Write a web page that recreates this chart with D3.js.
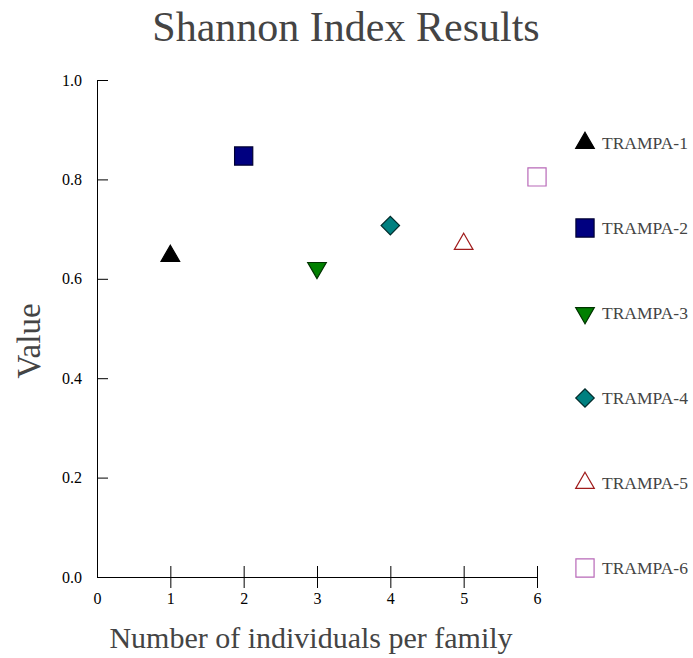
<!DOCTYPE html>
<html>
<head>
<meta charset="utf-8">
<script src="https://cdn.jsdelivr.net/npm/d3@7"></script>
<style>
  body { margin: 0; background: #fff; }
  text { font-family: "Liberation Serif", "DejaVu Serif", serif; }
</style>
</head>
<body>
<div id="chart"></div>
<script>
// data
var series = ["TRAMPA-1", "TRAMPA-2", "TRAMPA-3", "TRAMPA-4", "TRAMPA-5", "TRAMPA-6"]
var xValues = [1, 2, 3, 4, 5, 6]
var yValues = [0.646, 0.847, 0.622, 0.707, 0.670, 0.805]
var xTicks = [0, 1, 2, 3, 4, 5, 6]
var yTicks = [0.0, 0.2, 0.4, 0.6, 0.8, 1.0]

var width = 693,
    height = 658

var fills = ["#000000", "#000080", "#008000", "#008080", "none", "none"]
var strokes = ["#000000", "#000033", "#003300", "#002b2b", "#a01c1c", "#b868b8"]

var svg = d3.select("#chart")
  .append("svg")
    .attr("width", width)
    .attr("height", height)

var x = d3.scaleLinear().domain([0, 6]).range([97, 537])
var y = d3.scaleLinear().domain([0, 1]).range([577, 80])

// shape for each series
function shape(i) {
  if (i == 0 || i == 4) return {type: d3.symbolTriangle, rot: 0, size: 150}
  if (i == 2) return {type: d3.symbolTriangle, rot: 180, size: 150}
  if (i == 3) return {type: d3.symbolSquare, rot: 45, size: 170}
  return {type: d3.symbolSquare, rot: 0, size: 330}
}

// title
svg.append("text")
  .attr("x", 346).attr("y", 41)
  .attr("text-anchor", "middle")
  .style("font-size", "42px")
  .style("fill", "#444")
  .text("Shannon Index Results")

// axes
var yAxis = svg.append("g")
  .attr("transform", "translate(" + x(0) + ",0)")
  .call(d3.axisLeft(y).tickValues(yTicks).tickFormat(d3.format(".1f")).tickSizeInner(11).tickSizeOuter(0).tickPadding(4))
yAxis.selectAll(".tick line").attr("x2", 11)
yAxis.selectAll("text").style("font-size", "16px").style("fill", "#000")
  .style("font-family", "'Liberation Serif', serif")

var xAxis = svg.append("g")
  .attr("transform", "translate(0," + y(0) + ")")
  .call(d3.axisBottom(x).tickValues(xTicks).tickFormat(d3.format("d")).tickSizeInner(11).tickSizeOuter(0).tickPadding(5))
xAxis.selectAll(".tick line").attr("y1", -11).filter(function(d) { return d == 0 }).remove()
xAxis.selectAll("text").style("font-size", "16px").style("fill", "#000")
  .style("font-family", "'Liberation Serif', serif")

// axis labels
svg.append("text")
  .attr("transform", "translate(40,341) rotate(-90)")
  .attr("text-anchor", "middle")
  .style("font-size", "33px")
  .style("fill", "#444")
  .text("Value")

svg.append("text")
  .attr("x", 311).attr("y", 648)
  .attr("text-anchor", "middle")
  .style("font-size", "30px")
  .style("fill", "#444")
  .text("Number of individuals per family")

// points
svg.selectAll(".pt")
  .data(series)
  .enter()
  .append("path")
  .attr("class", "pt")
  .attr("d", function(d, i) { var s = shape(i); return d3.symbol().type(s.type).size(s.size)() })
  .attr("transform", function(d, i) { return "translate(" + x(xValues[i]) + "," + y(yValues[i]) + ") rotate(" + shape(i).rot + ")" })
  .attr("fill", function(d, i) { return fills[i] })
  .attr("stroke", function(d, i) { return strokes[i] })
  .style("stroke-width", "1.2px")

// legend
var leg = svg.selectAll(".leg")
  .data(series)
  .enter()
  .append("g")
  .attr("class", "leg")
  .attr("transform", function(d, i) { return "translate(585," + (143 + i * 85) + ")" })

leg.append("path")
  .attr("d", function(d, i) { var s = shape(i); return d3.symbol().type(s.type).size(s.size)() })
  .attr("transform", function(d, i) { return "rotate(" + shape(i).rot + ")" })
  .attr("fill", function(d, i) { return fills[i] })
  .attr("stroke", function(d, i) { return strokes[i] })
  .style("stroke-width", "1.2px")

leg.append("text")
  .attr("x", 17).attr("y", 6)
  .style("font-size", "17.5px")
  .style("fill", "#444")
  .text(function(d) { return d })
</script>
</body>
</html>
